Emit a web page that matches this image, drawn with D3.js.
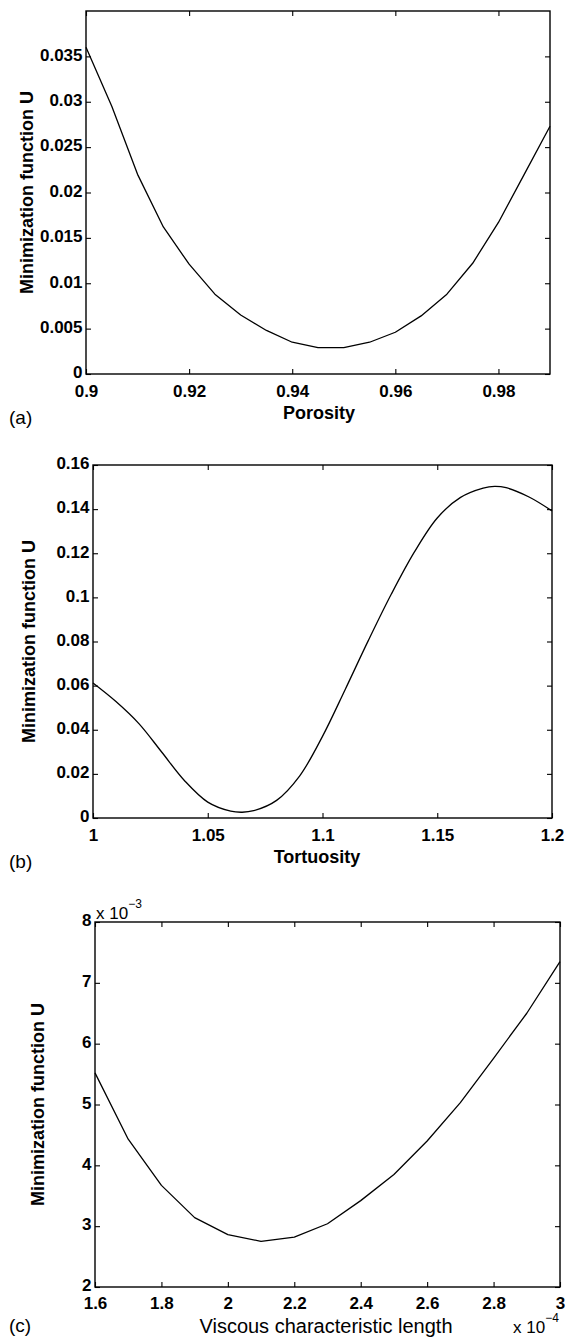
<!DOCTYPE html>
<html>
<head>
<meta charset="utf-8">
<script src="https://cdn.jsdelivr.net/npm/d3@7"></script>
<style>
  html, body { margin: 0; padding: 0; background: #fff; }
  svg { display: block; }
  text { font-family: "Liberation Sans", Arial, Helvetica, sans-serif; fill: #000; }
</style>
</head>
<body>
<svg id="chart" width="569" height="1341"></svg>
<script>
// ---------------- DATA ----------------
// (a) Porosity
const porosity = [0.900, 0.905, 0.910, 0.915, 0.920, 0.925, 0.930, 0.935, 0.940, 0.945,
                  0.950, 0.955, 0.960, 0.965, 0.970, 0.975, 0.980, 0.985, 0.990];
const uPorosity = [0.0360, 0.0295, 0.0220, 0.0162, 0.0121, 0.0088, 0.0065, 0.0048, 0.0035, 0.0029,
                   0.0029, 0.0035, 0.0046, 0.0064, 0.0088, 0.0122, 0.0167, 0.0220, 0.0273];
const porosityTicks = [0.9, 0.92, 0.94, 0.96, 0.98];
const uPorosityTicks = [0, 0.005, 0.01, 0.015, 0.02, 0.025, 0.03, 0.035];

// (b) Tortuosity
const tortuosity = [1.00, 1.01, 1.02, 1.03, 1.04, 1.05, 1.06, 1.065, 1.07, 1.08, 1.09,
                    1.10, 1.11, 1.12, 1.13, 1.14, 1.15, 1.16, 1.17, 1.175, 1.18, 1.19, 1.20];
const uTortuosity = [0.0612, 0.0528, 0.0428, 0.0298, 0.0168, 0.0072, 0.0031, 0.0026, 0.0033, 0.0080, 0.0190,
                     0.0370, 0.0585, 0.0805, 0.1015, 0.1205, 0.1360, 0.1452, 0.1495, 0.1503, 0.1497, 0.1455, 0.1392];
const tortuosityTicks = [1, 1.05, 1.1, 1.15, 1.2];
const uTortuosityTicks = [0, 0.02, 0.04, 0.06, 0.08, 0.1, 0.12, 0.14, 0.16];

// (c) Viscous characteristic length
const viscousLength = [1.6e-4, 1.7e-4, 1.8e-4, 1.9e-4, 2.0e-4, 2.1e-4, 2.2e-4, 2.3e-4,
                       2.4e-4, 2.5e-4, 2.6e-4, 2.7e-4, 2.8e-4, 2.9e-4, 3.0e-4];
const uViscous = [5.52e-3, 4.43e-3, 3.67e-3, 3.14e-3, 2.86e-3, 2.75e-3, 2.82e-3, 3.04e-3,
                  3.42e-3, 3.85e-3, 4.40e-3, 5.03e-3, 5.76e-3, 6.50e-3, 7.35e-3];
const viscousTicks = [1.6e-4, 1.8e-4, 2.0e-4, 2.2e-4, 2.4e-4, 2.6e-4, 2.8e-4, 3.0e-4];
const viscousTickLabels = ["1.6", "1.8", "2", "2.2", "2.4", "2.6", "2.8", "3"];
const uViscousTicks = [2e-3, 3e-3, 4e-3, 5e-3, 6e-3, 7e-3, 8e-3];
const uViscousTickLabels = ["2", "3", "4", "5", "6", "7", "8"];

// ---------------- DRAW ----------------
const svg = d3.select("#chart");
const fmt = d3.format("~g");

function panel(o) {
  const x = d3.scaleLinear().domain(o.xDomain).range([o.left, o.right]);
  const y = d3.scaleLinear().domain(o.yDomain).range([o.bottom, o.top]);
  const g = svg.append("g");

  const xf = o.xLabels ? (d, i) => o.xLabels[i] : fmt;
  const yf = o.yLabels ? (d, i) => o.yLabels[i] : fmt;

  // bottom axis
  g.append("g").attr("class", "xaxis").attr("transform", `translate(0,${o.bottom})`)
    .call(d3.axisBottom(x).tickValues(o.xTicks).tickFormat(xf).tickSizeInner(-5).tickSizeOuter(0).tickPadding(o.xPad));
  // top mirror
  g.append("g").attr("transform", `translate(0,${o.top})`)
    .call(d3.axisTop(x).tickValues(o.xTicks).tickFormat("").tickSizeInner(-5).tickSizeOuter(0));
  // left axis
  g.append("g").attr("class", "yaxis").attr("transform", `translate(${o.left},0)`)
    .call(d3.axisLeft(y).tickValues(o.yTicks).tickFormat(yf).tickSizeInner(-5).tickSizeOuter(0).tickPadding(3.5));
  // right mirror
  g.append("g").attr("transform", `translate(${o.right},0)`)
    .call(d3.axisRight(y).tickValues(o.yTicks).tickFormat("").tickSizeInner(-5).tickSizeOuter(0));

  g.selectAll(".domain").remove();
  g.selectAll(".tick line").attr("stroke", "#000").attr("stroke-width", 1.1);
  g.selectAll(".tick text")
    .style("font-family", '"Liberation Sans", Arial, sans-serif')
    .style("font-size", "17px").style("font-weight", "bold").attr("fill", "#000");
  g.selectAll(".yaxis .tick text").attr("dy", "0.22em");

  // frame
  g.append("rect")
    .attr("x", o.left).attr("y", o.top)
    .attr("width", o.right - o.left).attr("height", o.bottom - o.top)
    .attr("fill", "none").attr("stroke", "#000").attr("stroke-width", 1.4);

  // curve
  const pts = o.xs.map((v, i) => [v, o.ys[i]]);
  g.append("path")
    .datum(pts)
    .attr("fill", "none").attr("stroke", "#000").attr("stroke-width", 1.3)
    .attr("stroke-linejoin", "round")
    .attr("d", d3.line().x(d => x(d[0])).y(d => y(d[1])).curve(o.curve || d3.curveLinear));

  // y title
  g.append("text")
    .attr("transform", `translate(${o.yTitleX},${(o.top + o.bottom) / 2}) rotate(-90)`)
    .attr("text-anchor", "middle")
    .style("font-size", "18px").style("font-weight", "bold")
    .text("Minimization function U");

  // x title
  g.append("text")
    .attr("x", o.xTitleCx).attr("y", o.xTitleY)
    .attr("text-anchor", "middle")
    .style("font-size", o.xTitleSize).style("font-weight", o.xTitleWeight)
    .text(o.xTitle);

  // panel letter
  g.append("text")
    .attr("x", 9).attr("y", o.letterY)
    .style("font-size", "19px")
    .text(o.letter);

  return g;
}

panel({
  left: 86, right: 550, top: 11, bottom: 374,
  xDomain: [0.9, 0.99], yDomain: [0, 0.04],
  xTicks: porosityTicks, yTicks: uPorosityTicks, xPad: 10.5,
  xs: porosity, ys: uPorosity,
  yTitleX: 33, xTitle: "Porosity", xTitleCx: 319, xTitleY: 419,
  xTitleSize: "18px", xTitleWeight: "bold",
  letter: "(a)", letterY: 424
});

panel({
  left: 93, right: 552, top: 465, bottom: 818,
  xDomain: [1, 1.2], yDomain: [0, 0.16],
  xTicks: tortuosityTicks, yTicks: uTortuosityTicks, xPad: 10.5,
  xs: tortuosity, ys: uTortuosity, curve: d3.curveCatmullRom,
  yTitleX: 35, xTitle: "Tortuosity", xTitleCx: 317, xTitleY: 863,
  xTitleSize: "18px", xTitleWeight: "bold",
  letter: "(b)", letterY: 868
});

const gc = panel({
  left: 95, right: 560, top: 922, bottom: 1287,
  xDomain: [1.6e-4, 3e-4], yDomain: [2e-3, 8e-3],
  xTicks: viscousTicks, yTicks: uViscousTicks, xPad: 10,
  xLabels: viscousTickLabels, yLabels: uViscousTickLabels,
  xs: viscousLength, ys: uViscous,
  yTitleX: 44, xTitle: "Viscous characteristic length", xTitleCx: 326, xTitleY: 1333,
  xTitleSize: "20px", xTitleWeight: "normal",
  letter: "(c)", letterY: 1332
});

// exponent labels for panel (c)
function expLabel(g, x, y, exp) {
  const t = g.append("text").attr("x", x).attr("y", y).style("font-size", "17px");
  t.append("tspan").text("x 10");
  t.append("tspan").attr("dy", -11).style("font-size", "12px").text(exp);
}
expLabel(gc, 96, 919, "\u22123");
expLabel(gc, 513, 1333, "\u22124");
</script>
</body>
</html>
